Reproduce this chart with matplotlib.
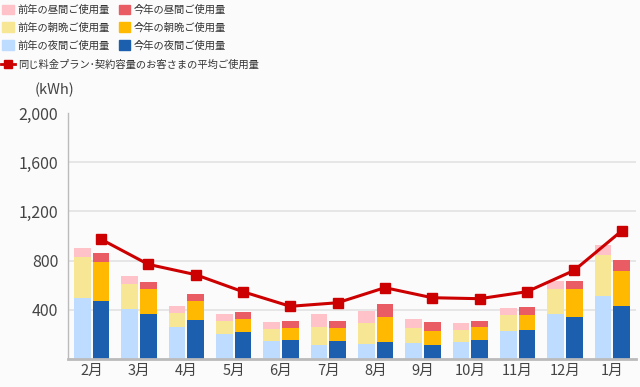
import numpy as np
import matplotlib.pyplot as plt
from matplotlib.patches import Patch
from matplotlib.lines import Line2D

plt.rcParams['font.family'] = ['Noto Sans CJK JP', 'DejaVu Sans']

# ---------- データ ----------
months = ["2月", "3月", "4月", "5月", "6月", "7月", "8月", "9月", "10月", "11月", "12月", "1月"]

prev_night = [495, 405, 258, 201, 147, 112, 120, 125, 136, 226, 364, 514]
prev_morning = [336, 206, 112, 106, 98, 149, 168, 123, 98, 128, 207, 329]
prev_day = [69, 63, 57, 60, 57, 103, 101, 78, 57, 62, 65, 86]

cur_night = [473, 364, 313, 215, 152, 142, 136, 109, 152, 234, 337, 432]
cur_morning = [317, 207, 160, 111, 101, 111, 206, 117, 104, 125, 229, 283]
cur_day = [74, 57, 54, 57, 57, 57, 104, 73, 54, 65, 65, 89]

average = [974, 769, 685, 546, 427, 456, 579, 497, 489, 546, 720, 1041]

yticks = [400, 800, 1200, 1600, 2000]

# ---------- 色 ----------
c_prev_day, c_cur_day = "#ffc2c8", "#e95c64"
c_prev_morning, c_cur_morning = "#f7e693", "#ffb900"
c_prev_night, c_cur_night = "#bedcff", "#1b5fae"
c_line = "#cc0000"
bg = "#fbfbfb"

fig = plt.figure(figsize=(6.4, 3.87), dpi=100, facecolor=bg)
ax = fig.add_axes([68 / 640, 28.3 / 387, 568 / 640, 245.4 / 387], facecolor=bg)

x = np.arange(len(months))
w = 0.35
off = 0.195

pn = np.array(prev_night)
pm = np.array(prev_morning)
pd_ = np.array(prev_day)
cn = np.array(cur_night)
cm = np.array(cur_morning)
cd = np.array(cur_day)

ax.bar(x - off, pn, w, color=c_prev_night, zorder=2)
ax.bar(x - off, pm, w, bottom=pn, color=c_prev_morning, zorder=2)
ax.bar(x - off, pd_, w, bottom=pn + pm, color=c_prev_day, zorder=2)

ax.bar(x + off, cn, w, color=c_cur_night, zorder=2)
ax.bar(x + off, cm, w, bottom=cn, color=c_cur_morning, zorder=2)
ax.bar(x + off, cd, w, bottom=cn + cm, color=c_cur_day, zorder=2)

ax.plot(x + off, average, color=c_line, lw=2.2, marker="s", markersize=7, zorder=3)

ax.set_xlim(-0.5, len(months) - 0.5)
ax.set_ylim(0, 2000)
ax.set_yticks(yticks)
ax.set_yticklabels([f"{v:,}" for v in yticks])
ax.set_xticks(x)
ax.set_xticklabels(months)
ax.tick_params(axis="y", length=0, labelsize=11.5, colors="#444444", pad=7)
ax.tick_params(axis="x", length=0, labelsize=10.5, colors="#444444", pad=4)

for v in yticks[:-1]:
    ax.axhline(v, color="#e4e4e4", lw=1.3, zorder=1)

for s in ["top", "right"]:
    ax.spines[s].set_visible(False)
ax.spines["left"].set_color("#bbbbbb")
ax.spines["left"].set_linewidth(1)
ax.spines["bottom"].set_color("#bbbbbb")
ax.spines["bottom"].set_linewidth(2)

fig.text(35 / 640, 1 - 90 / 387, "(kWh)", fontsize=10.5, color="#444444", va="center")

# ---------- 凡例 ----------
handles = [
    Patch(color=c_prev_day, label="前年の昼間ご使用量"),
    Patch(color=c_cur_day, label="今年の昼間ご使用量"),
    Patch(color=c_prev_morning, label="前年の朝晩ご使用量"),
    Patch(color=c_cur_morning, label="今年の朝晩ご使用量"),
    Patch(color=c_prev_night, label="前年の夜間ご使用量"),
    Patch(color=c_cur_night, label="今年の夜間ご使用量"),
]
order = [0, 2, 4, 1, 3, 5]
fig.legend([handles[i] for i in order], [handles[i].get_label() for i in order],
           ncol=2, loc="upper left", bbox_to_anchor=(-0.011, 1.012), frameon=False,
           fontsize=7.4, handlelength=1.1, handleheight=1.1, handletextpad=0.35,
           columnspacing=0.9, labelspacing=0.72, labelcolor="#333333")
fig.legend([Line2D([], [], color=c_line, lw=2, marker="s", markersize=6)],
           ["同じ料金プラン･契約容量のお客さまの平均ご使用量"],
           loc="upper left", bbox_to_anchor=(-0.013, 1 - 50 / 387), frameon=False,
           fontsize=7.4, handlelength=1.4, handletextpad=0.3, labelcolor="#333333")

fig.savefig("out.png", dpi=100, facecolor=bg)
